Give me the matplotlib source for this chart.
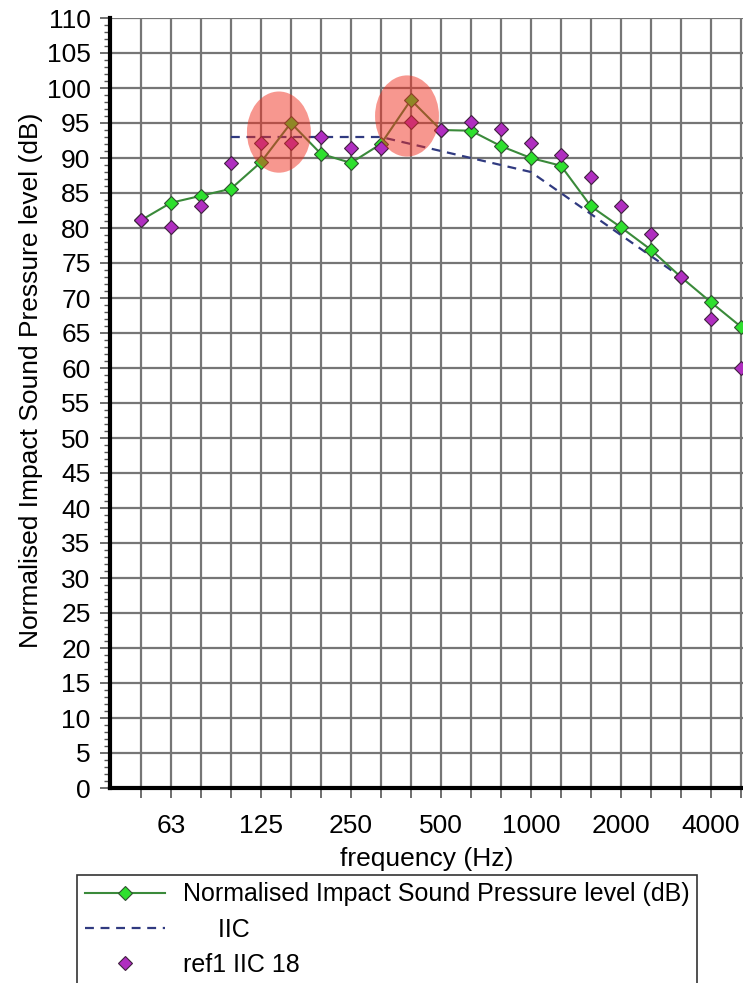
import numpy as np
import matplotlib
matplotlib.use("Agg")
import matplotlib.pyplot as plt
from matplotlib.patches import Ellipse

plt.rcParams['font.family'] = ['Liberation Sans', 'DejaVu Sans']

# third-octave bands
freqs = [50, 63, 80, 100, 125, 160, 200, 250, 315, 400, 500, 630, 800,
         1000, 1250, 1600, 2000, 2500, 3150, 4000, 5000]
normalised = [81.1, 83.6, 84.6, 85.6, 89.4, 95.0, 90.6, 89.3, 92.0, 98.3, 94.0,
              93.9, 91.7, 90.0, 88.9, 83.1, 80.1, 76.9, 73.0, 69.4, 65.9]
ref1 = [81.1, 80.1, 83.1, 89.3, 92.1, 92.1, 93.0, 91.4, 91.4, 95.1, 94.0,
        95.1, 94.1, 92.1, 90.4, 87.3, 83.1, 79.1, 73.0, 67.0, 60.0]
iic_freqs = [100, 125, 160, 200, 250, 315, 400, 500, 630, 800, 1000, 1250,
             1600, 2000, 2500, 3150]
iic = [93, 93, 93, 93, 93, 93, 92, 91, 90, 89, 88, 85, 82, 79, 76, 73]
tick_labels = ['63', '125', '250', '500', '1000', '2000', '4000']

idx = {f: i for i, f in enumerate(freqs)}
x = np.arange(len(freqs))
x_iic = [idx[f] for f in iic_freqs]
x_lab = [idx[int(t)] for t in tick_labels]

fig = plt.figure(figsize=(7.43, 9.83), dpi=100)
ax = fig.add_axes([110/743, 1-788/983, 1-110/743, (788-18)/983])

ax.plot(x, normalised, color='#3a8a3a', lw=1.5, marker='D', ms=7.5,
        mfc='#2ee02e', mec='#305030', mew=0.8, zorder=4,
        label='Normalised Impact Sound Pressure level (dB)')
ax.plot(x_iic, iic, color='#303a80', lw=1.6, ls=(0, (4, 3)), zorder=3,
        label='     IIC')
ax.plot(x, ref1, ls='none', marker='D', ms=7.5, mfc='#b02ec0',
        mec='#402040', mew=0.8, zorder=5, label='ref1 IIC 18')

# highlight ellipses
for cx, cy in [(4.6, 93.7), (8.87, 96.0)]:
    ax.add_patch(Ellipse((cx, cy), 2.13, 11.6, facecolor='#f03020',
                         edgecolor='none', alpha=0.5, zorder=6))

ax.set_xlim(-1.03, 20.07)
ax.set_ylim(0, 110)
ax.set_xticks(x)
ax.set_xticklabels([tick_labels[x_lab.index(i)] if i in x_lab else '' for i in x])
ax.set_yticks(np.arange(0, 111, 5))
ax.set_yticks(np.arange(0, 111, 1), minor=True)
ax.grid(True, which='major', color='#767676', lw=1.6)
ax.set_axisbelow(True)
ax.tick_params(axis='both', which='major', labelsize=19, length=7, width=1.2,
               color='#555555')
ax.tick_params(axis='y', which='minor', length=4, width=1, color='#555555')
ax.tick_params(axis='x', pad=12)
ax.tick_params(axis='y', pad=7)
for s in ['top', 'right']:
    ax.spines[s].set_visible(False)
for s in ['left', 'bottom']:
    ax.spines[s].set_linewidth(3)

ax.set_xlabel('frequency (Hz)', fontsize=19, labelpad=6)
ax.set_ylabel('Normalised Impact Sound Pressure level (dB)', fontsize=19)
ax.yaxis.set_label_coords(-0.106, 0.53)

leg = fig.legend(loc='upper left', bbox_to_anchor=(77/743, 1-875/983),
                 borderaxespad=0, fontsize=18, frameon=True, fancybox=False,
                 edgecolor='black', handlelength=3.2, borderpad=0.3,
                 labelspacing=0.45, handletextpad=0.75, markerscale=0.9)
leg.get_frame().set_linewidth(1.2)

fig.savefig('out.png', dpi=100)
